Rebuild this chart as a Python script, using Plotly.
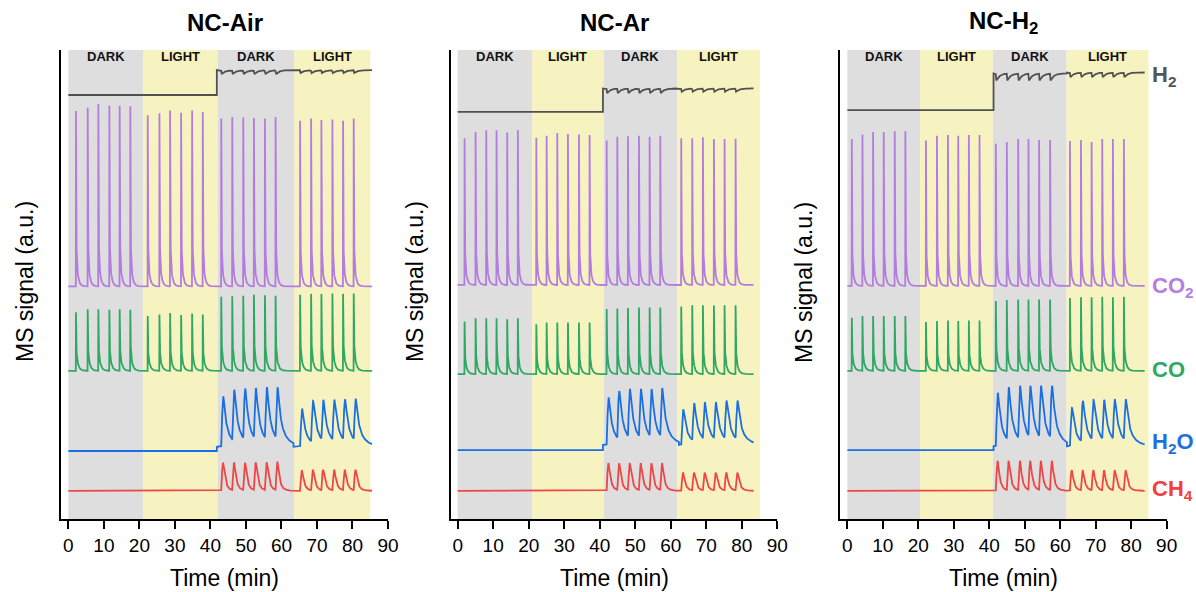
import numpy as np
import plotly.graph_objects as go

# ---------------- data ----------------
panel_names = ["NC-Air", "NC-Ar", "NC-H<sub>2</sub>"]
phase_labels = ["DARK", "LIGHT", "DARK", "LIGHT"]

# shaded phase edges (min)
air_phase_edges = [0.0, 21.0, 42.0, 63.6, 85.0]
ar_phase_edges = [0.0, 21.0, 41.1, 61.8, 85.1]
h2_phase_edges = [0.0, 20.5, 41.0, 61.8, 84.9]

# recorded data segment edges (min)
air_seg_edges = [0.0, 21.0, 41.8, 63.4, 85.5]
ar_seg_edges = [0.0, 21.0, 40.9, 62.3, 83.3]
h2_seg_edges = [0.0, 20.6, 41.2, 61.9, 83.8]

# pulse times (min), 6 per phase
air_pulses = [2.1, 5.4, 8.4, 11.5, 14.4, 17.4, 22.3, 25.6, 28.6, 31.7, 34.8, 37.8,
              43.0, 46.1, 49.2, 52.2, 55.3, 58.3, 65.2, 68.3, 71.2, 74.3, 77.3, 80.3]
ar_pulses = [1.9, 5.0, 8.0, 10.9, 13.9, 16.9, 22.1, 25.0, 28.0, 31.0, 34.1, 37.1,
             41.9, 44.9, 47.9, 51.0, 54.0, 57.0, 62.9, 66.0, 69.0, 72.1, 75.1, 78.2]
h2_pulses = [1.2, 4.2, 7.2, 10.2, 13.3, 16.3, 22.1, 25.2, 28.3, 31.2, 34.2, 37.2,
             41.8, 44.9, 48.1, 51.0, 54.0, 57.1, 62.7, 65.8, 68.8, 71.8, 74.8, 77.9]

# H2 signal level per phase (a.u.) and wiggle depth per phase
air_h2_level = [90.4, 90.4, 95.7, 95.7]
ar_h2_level = [86.8, 86.8, 91.8, 91.8]
h2_h2_level = [87.2, 87.2, 95.0, 95.2]
air_h2_dip = [0.0, 0.0, 0.85, 0.6]
ar_h2_dip = [0.0, 0.0, 1.0, 0.7]
h2_h2_dip = [0.0, 0.0, 1.5, 1.0]

# CO2 baseline and peak tops (a.u.)
air_co2_base = [49.6, 49.6, 49.6, 49.6]
ar_co2_base = [49.9, 49.9, 49.9, 49.9]
h2_co2_base = [49.7, 49.7, 49.7, 49.7]
air_co2_peaks = [87.0, 87.7, 88.5, 88.1, 88.1, 88.0, 86.1, 86.5, 87.1, 86.6, 87.1, 86.8,
                 85.4, 85.7, 85.6, 85.5, 85.4, 85.7, 84.9, 85.4, 85.1, 85.2, 84.9, 85.4]
ar_co2_peaks = [81.2, 82.5, 82.9, 82.9, 82.4, 82.9, 81.3, 81.7, 82.3, 82.1, 82.0, 81.9,
                80.7, 81.5, 81.6, 81.7, 81.5, 81.7, 81.2, 81.2, 81.4, 81.0, 81.0, 81.1]
h2_co2_peaks = [81.0, 82.0, 82.5, 82.5, 82.7, 82.7, 80.7, 81.7, 81.9, 81.7, 81.9, 81.9,
                80.0, 80.4, 81.0, 81.0, 80.8, 80.8, 80.6, 80.8, 80.4, 81.0, 81.0, 81.0]

# CO baseline and peak tops (a.u.)
air_co_base = [31.6, 31.6, 31.6, 31.6]
ar_co_base = [30.9, 30.9, 30.9, 30.9]
h2_co_base = [31.6, 31.6, 31.6, 31.6]
air_co_peaks = [44.1, 44.7, 44.7, 44.6, 44.7, 44.6, 43.3, 43.6, 43.9, 43.5, 43.8, 43.6,
                47.4, 47.5, 47.6, 47.8, 47.7, 47.6, 47.8, 48.0, 48.0, 48.1, 48.0, 48.1]
ar_co_peaks = [42.1, 42.8, 42.8, 42.8, 42.6, 42.8, 41.5, 41.9, 41.9, 41.9, 41.9, 41.9,
               44.8, 44.9, 45.0, 45.1, 45.1, 45.1, 45.3, 45.6, 45.6, 45.5, 45.6, 45.6]
h2_co_peaks = [42.9, 43.3, 43.3, 43.3, 43.3, 43.3, 42.0, 42.2, 42.3, 42.2, 42.3, 42.3,
               46.5, 46.7, 46.8, 46.8, 46.8, 46.8, 47.1, 47.3, 47.3, 47.4, 47.3, 47.4]

# H2O baseline and peak tops (a.u.) - pulses only in the last two phases
air_h2o_base = [14.5, 14.5, 15.4, 15.4]
ar_h2o_base = [14.7, 14.7, 15.8, 15.8]
h2_h2o_base = [14.7, 14.7, 15.5, 15.5]
air_h2o_peaks = [26.1, 27.5, 27.8, 27.9, 28.1, 28.1, 23.5, 25.2, 25.4, 25.4, 25.5, 25.6]
ar_h2o_peaks = [25.9, 27.3, 27.7, 27.7, 27.7, 27.9, 23.4, 24.7, 24.9, 24.9, 25.2, 25.2]
h2_h2o_peaks = [26.9, 28.1, 28.4, 28.4, 28.4, 28.4, 23.7, 25.2, 25.4, 25.4, 25.5, 25.5]

# CH4 baseline and peak tops (a.u.) - pulses only in the last two phases
air_ch4_base = [6.0, 6.0, 6.0, 6.0]
ar_ch4_base = [6.0, 6.0, 6.0, 6.0]
h2_ch4_base = [6.0, 6.0, 6.0, 6.0]
air_ch4_peaks = [12.0, 12.0, 12.0, 12.1, 12.1, 12.2, 10.4, 10.5, 10.5, 10.5, 10.5, 10.5]
ar_ch4_peaks = [11.9, 11.9, 11.9, 11.9, 11.9, 11.9, 9.9, 9.9, 9.9, 9.9, 9.9, 9.9]
h2_ch4_peaks = [12.4, 12.4, 12.4, 12.4, 12.4, 12.4, 10.4, 10.4, 10.4, 10.4, 10.4, 10.4]

# ---------------- styles ----------------
COL = {"h2": "#505050", "co2": "#B47BE0", "co": "#2EA862", "h2o": "#1A6FE3", "ch4": "#F04545"}
LABEL_COL = {"h2": "#555555", "co2": "#B57FE0", "co": "#2EA862", "h2o": "#1E6FE0", "ch4": "#F04040"}
GRAY = "#DEDEDE"
YELLOW = "#F7F3C1"
FONT = "Liberation Sans, Arial, sans-serif"

SHAPES = {
    "co2": dict(r=0.03, fast=0.07, slow=0.45, ws=0.12),
    "co": dict(r=0.03, fast=0.07, slow=0.5, ws=0.22),
    "h2o": dict(r=0.45, fast=0.6, slow=2.0, ws=0.25),
    "ch4": dict(r=0.45, fast=0.5, slow=1.2, ws=0.1),
    "h2": dict(r=0.1, fast=0.9, slow=0.9, ws=0.0),
}


def pulse(s, p):
    s = np.clip(s, 0, None)
    return (1 - np.exp(-(s / p["r"]) ** 2)) * ((1 - p["ws"]) * np.exp(-s / p["fast"]) + p["ws"] * np.exp(-s / p["slow"]))


NORM = {}
_sg = np.linspace(0, 10, 40001)
for k, p in SHAPES.items():
    g = pulse(_sg, p)
    NORM[k] = (_sg[np.argmax(g)], g.max())


def build(seg_edges, times, base, phase_peaks, key, dt=0.01):
    p = SHAPES[key]
    spk, gmax = NORM[key]
    ts, ys = [], []
    for i in range(4):
        a, b = seg_edges[i], seg_edges[i + 1]
        pt = times[6 * i:6 * i + 6]
        pk = phase_peaks[i]
        t = np.arange(a, b + 1e-9, dt)
        if pk is not None:
            t = np.union1d(t, np.array(pt) + spk)
        y = np.full_like(t, base[i])
        if pk is not None:
            amps = []
            for k, (tk, P) in enumerate(zip(pt, pk)):
                tp = tk + spk
                resid = sum(A * pulse(np.array([tp - tj]), p)[0] / gmax for A, tj in zip(amps, pt[:k]))
                amps.append(P - base[i] - resid)
            for A, tk in zip(amps, pt):
                y = y + A * pulse(t - tk, p) / gmax
        ts.append(t)
        ys.append(y)
    return np.concatenate(ts), np.concatenate(ys)


def split24(v):
    return [v[0:6], v[6:12], v[12:18], v[18:24]]


def split12(v):
    return [None, None, v[0:6], v[6:12]]


def h2_targets(level, dip):
    return [None if d == 0 else [level[i] - d] * 6 for i, d in enumerate(dip)]


panels = [
    dict(phase=air_phase_edges, seg=air_seg_edges, pulses=air_pulses,
         h2=(air_h2_level, air_h2_dip), co2=(air_co2_base, air_co2_peaks), co=(air_co_base, air_co_peaks),
         h2o=(air_h2o_base, air_h2o_peaks), ch4=(air_ch4_base, air_ch4_peaks)),
    dict(phase=ar_phase_edges, seg=ar_seg_edges, pulses=ar_pulses,
         h2=(ar_h2_level, ar_h2_dip), co2=(ar_co2_base, ar_co2_peaks), co=(ar_co_base, ar_co_peaks),
         h2o=(ar_h2o_base, ar_h2o_peaks), ch4=(ar_ch4_base, ar_ch4_peaks)),
    dict(phase=h2_phase_edges, seg=h2_seg_edges, pulses=h2_pulses,
         h2=(h2_h2_level, h2_h2_dip), co2=(h2_co2_base, h2_co2_peaks), co=(h2_co_base, h2_co_peaks),
         h2o=(h2_h2o_base, h2_h2o_peaks), ch4=(h2_ch4_base, h2_ch4_peaks)),
]

W, H = 1196, 592
KX = 0.99  # horizontal render compensation
x_px = [[61, 387.7], [450.7, 776.7], [839.3, 1165.7]]
x_domains = [[a / KX / W, b / KX / W] for a, b in x_px]
x_ranges = [[-2.06, 90], [-1.86, 90], [-2.09, 90]]
y_domain = [(H - 519) / H, (H - 50) / H]

fig = go.Figure()
shapes, annotations = [], []

for i, P in enumerate(panels):
    xa = "x" if i == 0 else f"x{i + 1}"
    ya = "y" if i == 0 else f"y{i + 1}"
    # shading
    for j in range(4):
        shapes.append(dict(type="rect", xref=xa, yref=ya, x0=P["phase"][j], x1=P["phase"][j + 1],
                           y0=0, y1=100.6, fillcolor=GRAY if j % 2 == 0 else YELLOW,
                           line=dict(width=0), layer="below"))
        annotations.append(dict(xref=xa, yref=ya, x=(P["phase"][j] + P["phase"][j + 1]) / 2, y=98.6,
                                text=f"<b>{phase_labels[j]}</b>", showarrow=False,
                                font=dict(family=FONT, size=13, color="#111111")))
    series = [
        ("ch4", P["ch4"][0], split12(P["ch4"][1])),
        ("h2o", P["h2o"][0], split12(P["h2o"][1])),
        ("co", P["co"][0], split24(P["co"][1])),
        ("co2", P["co2"][0], split24(P["co2"][1])),
        ("h2", P["h2"][0], h2_targets(*P["h2"])),
    ]
    for key, base, pk in series:
        t, y = build(P["seg"], P["pulses"], base, pk, key)
        fig.add_trace(go.Scatter(x=t, y=y, mode="lines", xaxis=xa, yaxis=ya, showlegend=False,
                                 line=dict(color=COL[key], width=1.8), hoverinfo="skip"))

    cx = (x_domains[i][0] + x_domains[i][1]) / 2
    annotations.append(dict(xref="paper", yref="paper", x=cx, y=(H - 22) / H, text=f"<b>{panel_names[i]}</b>",
                            showarrow=False, font=dict(family=FONT, size=24, color="#000000"),
                            xanchor="center", yanchor="middle"))
    annotations.append(dict(xref="paper", yref="paper", x=cx, y=(H - 578) / H, text="Time (min)",
                            showarrow=False, font=dict(family=FONT, size=23, color="#000000"),
                            xanchor="center", yanchor="middle"))
    annotations.append(dict(xref="paper", yref="paper", x=(x_px[i][0] - 36) / KX / W, y=(H - 282) / H,
                            text="MS signal (a.u.)", textangle=-90, showarrow=False,
                            font=dict(family=FONT, size=23, color="#000000"),
                            xanchor="center", yanchor="middle"))

    axis_common = dict(showline=True, linecolor="#000000", linewidth=1.6, showgrid=False, zeroline=False)
    fig.layout[("xaxis" if i == 0 else f"xaxis{i + 1}")] = dict(
        domain=x_domains[i], range=x_ranges[i], anchor=ya, tickmode="array",
        tickvals=[0, 10, 20, 30, 40, 50, 60, 70, 80, 90], ticks="outside", ticklen=8, tickwidth=1.6,
        tickcolor="#000000", tickfont=dict(family=FONT, size=19, color="#000000"), **axis_common)
    fig.layout[("yaxis" if i == 0 else f"yaxis{i + 1}")] = dict(
        domain=y_domain, range=[0, 100], anchor=xa, showticklabels=False, ticks="", **axis_common)

# right-hand species labels (panel 3)
right_labels = [("H<sub>2</sub>", 94.5, "h2"), ("CO<sub>2</sub>", 49.4, "co2"), ("CO", 31.9, "co"),
                ("H<sub>2</sub>O", 16.3, "h2o"), ("CH<sub>4</sub>", 6.1, "ch4")]
for txt, yv, key in right_labels:
    annotations.append(dict(xref="x3", yref="y3", x=85.3, y=yv, text=f"<b>{txt}</b>", showarrow=False,
                            xanchor="left", yanchor="middle",
                            font=dict(family=FONT, size=22, color=LABEL_COL[key])))

fig.update_layout(width=W, height=H, margin=dict(l=0, r=0, t=0, b=0),
                  paper_bgcolor="white", plot_bgcolor="white",
                  shapes=shapes, annotations=annotations)

fig.write_html("out.html")
